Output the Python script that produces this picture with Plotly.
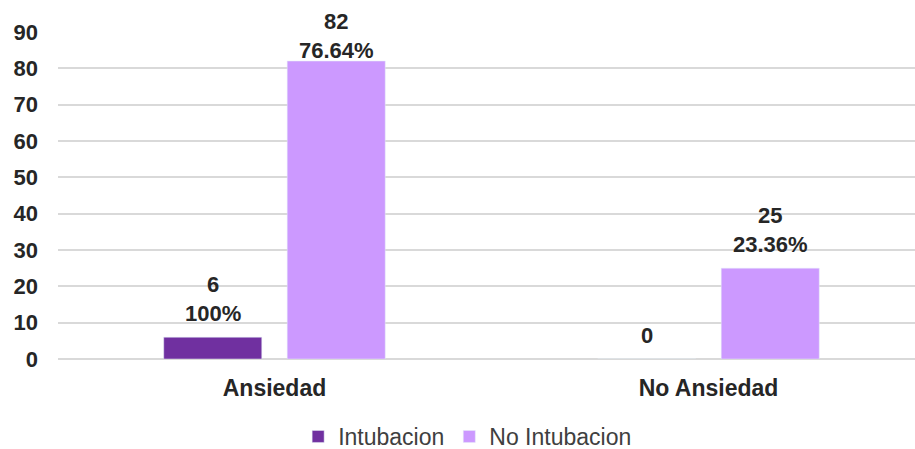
import plotly.graph_objects as go

categories = ["Ansiedad", "No Ansiedad"]
intubacion = [6, 0]
no_intubacion = [82, 25]
intubacion_pct = ["100%", None]
no_intubacion_pct = ["76.64%", "23.36%"]
y_ticks = [0, 10, 20, 30, 40, 50, 60, 70, 80, 90]

font_family = "Liberation Sans, Arial, sans-serif"
text_color = "#262626"
label_font = dict(family=font_family, size=22, color=text_color, weight="bold")

fig = go.Figure()
fig.add_trace(go.Bar(
    name="Intubacion", x=categories, y=intubacion,
    marker_color="#7030A0",
))
fig.add_trace(go.Bar(
    name="No Intubacion", x=categories, y=no_intubacion,
    marker_color="#CC99FF",
))

# value / percentage labels placed above each bar of the group
bar_offset_px = 61.75
for values, pcts, side in ((intubacion, intubacion_pct, -1), (no_intubacion, no_intubacion_pct, 1)):
    for cat, val, pct in zip(categories, values, pcts):
        label = f"{val}" if pct is None else f"{val}<br>{pct}"
        lift = -4 if val > 80 else 9
        fig.add_annotation(
            x=cat, y=val, xref="x", yref="y",
            xshift=side * bar_offset_px, yshift=lift,
            yanchor="bottom", xanchor="center",
            text=label, showarrow=False, font=label_font,
        )

fig.update_layout(
    width=915, height=449,
    margin=dict(l=58, r=0, t=32, b=90, autoexpand=False),
    paper_bgcolor="white", plot_bgcolor="white",
    barmode="group", bargap=0.431, bargroupgap=0.206,
    font=dict(family=font_family, color=text_color),
    showlegend=True,
    legend=dict(
        orientation="h", x=0.478, xanchor="center", y=-0.237, yanchor="middle",
        font=dict(family=font_family, size=23, color="#404040"),
        itemwidth=30, tracegroupgap=0,
    ),
    xaxis=dict(
        range=[-0.4988, 1.4758],
        showgrid=False, showline=False, ticks="",
        tickfont=dict(family=font_family, size=23, color=text_color, weight="bold"),
        ticklabelstandoff=13,
    ),
    yaxis=dict(
        range=[0, 90], tickvals=y_ticks,
        showgrid=True, gridcolor="#D9D9D9", gridwidth=1.5,
        zeroline=True, zerolinecolor="#D9D9D9", zerolinewidth=1.5,
        showline=False, ticks="",
        tickfont=dict(family=font_family, size=22, color=text_color, weight="bold"),
        ticklabelstandoff=19,
    ),
)

fig.write_html("out.html")
